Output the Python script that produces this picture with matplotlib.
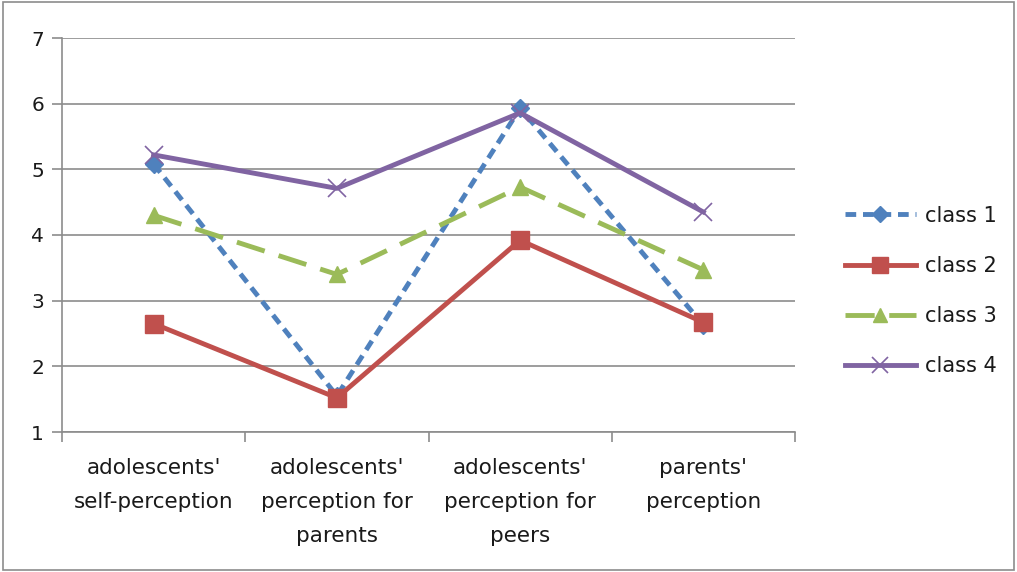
import matplotlib.pyplot as plt
import numpy as np

categories = ["adolescents'\nself-perception", "adolescents'\nperception for\nparents",
              "adolescents'\nperception for\npeers", "parents'\nperception"]
series_names = ["class 1", "class 2", "class 3", "class 4"]
class1 = [5.08, 1.55, 5.93, 2.63]
class2 = [2.65, 1.52, 3.92, 2.67]
class3 = [4.30, 3.40, 4.73, 3.47]
class4 = [5.22, 4.71, 5.86, 4.35]
yticks = [1, 2, 3, 4, 5, 6, 7]

plt.rcParams['font.family'] = ['DejaVu Sans']
plt.rcParams['text.color'] = '#1a1a1a'

fig = plt.figure(figsize=(10.17, 5.72), dpi=100)
ax = fig.add_axes([62/1017, 1-432/572, (795-62)/1017, (432-38)/572])

x = np.arange(len(categories))
styles = [
    dict(color='#4F81BD', marker='D', markersize=9, linestyle=(0, (2.2, 1.4)), linewidth=3.5),
    dict(color='#C0504D', marker='s', markersize=13, linestyle='-', linewidth=3.5),
    dict(color='#9BBB59', marker='^', markersize=12, linestyle=(0, (6, 3)), linewidth=3.5),
    dict(color='#8064A2', marker='x', markersize=13, markeredgewidth=1.2, linestyle='-', linewidth=3.5),
]
for name, vals, st in zip(series_names, [class1, class2, class3, class4], styles):
    ax.plot(x, vals, label=name, **st)

ax.set_xlim(-0.5, 3.5)
ax.set_ylim(1, 7)
ax.set_yticks(yticks)
ax.set_yticklabels([str(t) for t in yticks], fontsize=14.5)
ax.yaxis.grid(True, color='#8c8c8c', linewidth=1.2)
ax.set_axisbelow(True)
ax.tick_params(axis='y', length=7, color='#8c8c8c', width=1.2, pad=6, labelcolor='#1a1a1a')

ax.set_xticks([-0.5, 0.5, 1.5, 2.5, 3.5])
ax.set_xticklabels([])
ax.set_xticks(x, minor=True)
ax.set_xticklabels(categories, minor=True, fontsize=15.5, linespacing=1.85)
ax.tick_params(axis='x', which='major', length=7, color='#8c8c8c', width=1.2, direction='out')
ax.tick_params(axis='x', which='minor', length=0, pad=19, labelcolor='#1a1a1a')

for s in ['top', 'right']:
    ax.spines[s].set_visible(False)
for s in ['left', 'bottom']:
    ax.spines[s].set_color('#8c8c8c')
    ax.spines[s].set_linewidth(1.2)

leg = fig.legend(loc='center left', bbox_to_anchor=(826/1017, 1-291/572), frameon=False,
                 fontsize=15, handlelength=3.4, labelspacing=1.45, handletextpad=0.45,
                 markerscale=0.85)

fig.patches.append(plt.Rectangle((0.003, 0.003), 0.994, 0.994, transform=fig.transFigure,
                                 fill=False, edgecolor='#8c8c8c', linewidth=1.2))

fig.savefig('out.png', dpi=100)
